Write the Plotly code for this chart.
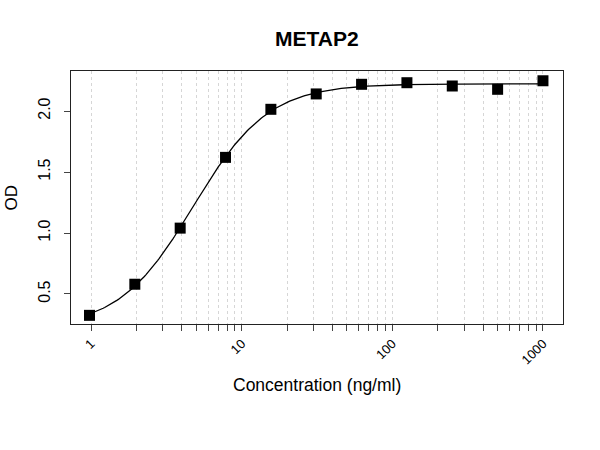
import numpy as np
import plotly.graph_objects as go

# Data
conc = [0.977, 1.953, 3.906, 7.8125, 15.625, 31.25, 62.5, 125, 250, 500, 1000]
od = [0.325, 0.58, 1.04, 1.62, 2.014, 2.14, 2.219, 2.232, 2.205, 2.178, 2.248]

title_text = "METAP2"
x_title = "Concentration (ng/ml)"
y_title = "OD"
x_major = [1, 10, 100, 1000]
y_ticks = [0.5, 1.0, 1.5, 2.0]

# 4-parameter logistic fit (grid search on ec50/hill, linear LSQ for bottom/top)
cx = np.array(conc)
cy = np.array(od)
best = None
for lec in np.linspace(0.2, 1.5, 261):
    for h in np.linspace(0.5, 4.0, 141):
        f = 1.0 / (1.0 + (10 ** lec / cx) ** h)
        A = np.vstack([1 - f, f]).T
        coef, *_ = np.linalg.lstsq(A, cy, rcond=None)
        r = np.sum((A @ coef - cy) ** 2)
        if best is None or r < best[0]:
            best = (r, lec, h, coef)
_, lec, h, (bot, top) = best
xf = np.logspace(np.log10(min(conc)), np.log10(max(conc)), 300)
ff = 1.0 / (1.0 + (10 ** lec / xf) ** h)
yf = bot + (top - bot) * ff

# minor tick positions for log axis
tickvals = []
ticktext = []
for d in [1, 10, 100]:
    for k in range(1, 10):
        v = d * k
        tickvals.append(v)
        ticktext.append(str(v) if k == 1 else "")
tickvals.append(1000)
ticktext.append("1000")

font = "Liberation Sans, Arial, sans-serif"

fig = go.Figure()
fig.add_trace(go.Scatter(x=xf, y=yf, mode="lines",
                         line=dict(color="black", width=1.3), hoverinfo="skip"))
fig.add_trace(go.Scatter(x=conc, y=od, mode="markers",
                         marker=dict(symbol="square", size=11, color="black")))

fig.update_layout(
    width=600, height=450,
    margin=dict(l=71, r=37, t=71, b=126),
    paper_bgcolor="white", plot_bgcolor="white",
    showlegend=False,
    font=dict(family=font, color="black"),
    annotations=[
        dict(text="<b>" + title_text + "</b>", xref="paper", yref="paper",
             x=0.5, y=1, yshift=33, showarrow=False,
             font=dict(size=21, family=font, color="black"),
             xanchor="center", yanchor="middle"),
        dict(text=x_title, xref="paper", yref="paper", x=0.5, y=0,
             yshift=-61, showarrow=False, font=dict(size=17.5, family=font),
             xanchor="center", yanchor="middle"),
        dict(text=y_title, xref="paper", yref="paper", x=0, y=0.5,
             xshift=-60, yshift=0, showarrow=False, textangle=-90,
             font=dict(size=17, family=font),
             xanchor="center", yanchor="middle"),
    ],
)

fig.update_xaxes(
    type="log", range=[-0.133, 3.133],
    tickvals=tickvals, ticktext=ticktext, tickangle=-45,
    tickfont=dict(size=13, family=font, color="black"),
    ticks="outside", ticklen=6, tickcolor="#444", tickwidth=1,
    showgrid=True, gridcolor="#d6d6d6", gridwidth=1, griddash="3px,3px",
    showline=True, linecolor="#222", linewidth=1, mirror=True,
    zeroline=False,
)
fig.update_yaxes(
    range=[0.254, 2.328],
    tickvals=y_ticks, ticktext=["0.5", "1.0", "1.5", "2.0"], tickangle=-90,
    tickfont=dict(size=16, family=font, color="black"),
    ticks="outside", ticklen=6, tickcolor="#444", tickwidth=1,
    ticklabelstandoff=8,
    showgrid=False,
    showline=True, linecolor="#222", linewidth=1, mirror=True,
    zeroline=False,
)

fig.write_html("out.html")
